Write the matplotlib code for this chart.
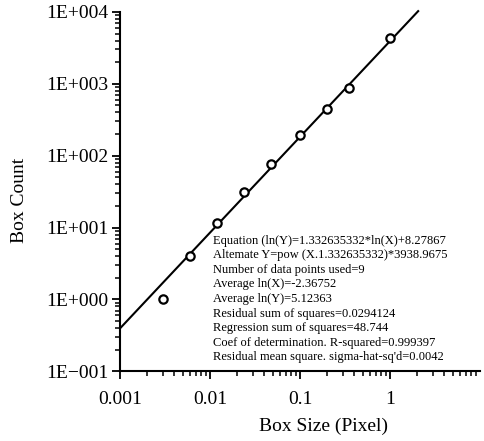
import numpy as np
import matplotlib
matplotlib.use("Agg")
import matplotlib.pyplot as plt
from matplotlib.ticker import LogLocator, NullFormatter

plt.rcParams['font.family'] = ['Liberation Serif', 'DejaVu Serif']

# box counting data
box_size = [0.003, 0.006, 0.012, 0.024, 0.048, 0.1, 0.2, 0.35, 1.0]
box_count = [1.0, 4.06, 11.5, 31.2, 75.8, 193, 451, 872, 4276]

# fitted power law  Y = A * X^b
slope = 1.332635332
coef = 3938.9675
fit_x = [0.001, 2.05]

yticks = [0.1, 1, 10, 100, 1000, 10000]
ytick_labels = ["1E\u2212001", "1E+000", "1E+001", "1E+002", "1E+003", "1E+004"]
xticks = [0.001, 0.01, 0.1, 1]
xtick_labels = ["0.001", "0.01", "0.1", "1"]

stats = ["Equation (ln(Y)=1.332635332*ln(X)+8.27867",
         "Altemate Y=pow (X.1.332635332)*3938.9675",
         "Number of data points used=9",
         "Average ln(X)=-2.36752",
         "Average ln(Y)=5.12363",
         "Residual sum of squares=0.0294124",
         "Regression sum of squares=48.744",
         "Coef of determination. R-squared=0.999397",
         "Residual mean square. sigma-hat-sq'd=0.0042"]

fig = plt.figure(figsize=(4.84, 4.41), dpi=100)
ax = fig.add_axes([0.248, 0.158, 0.744, 0.815])

xs = np.logspace(np.log10(fit_x[0]), np.log10(fit_x[1]), 50)
ax.plot(xs, coef * xs**slope, color='black', lw=1.5, clip_on=False)
ax.plot(box_size, box_count, 'o', ms=6, mfc='white', mec='black', mew=1.6)

ax.set_xscale('log')
ax.set_yscale('log')
ax.set_xlim(0.001, 10)
ax.set_ylim(0.1, 10000)

ax.set_xticks(xticks)
ax.set_xticklabels(xtick_labels)
ax.set_yticks(yticks)
ax.set_yticklabels(ytick_labels)
ax.xaxis.set_minor_locator(LogLocator(base=10, subs=np.arange(2, 10)))
ax.yaxis.set_minor_locator(LogLocator(base=10, subs=np.arange(2, 10)))
ax.xaxis.set_minor_formatter(NullFormatter())
ax.yaxis.set_minor_formatter(NullFormatter())

for s in ['top', 'right']:
    ax.spines[s].set_visible(False)
for s in ['left', 'bottom']:
    ax.spines[s].set_linewidth(1.5)

ax.tick_params(which='major', direction='out', length=6, width=1.3, labelsize=14)
ax.tick_params(which='minor', direction='out', length=3.5, width=1.1)
ax.tick_params(axis='x', which='major', pad=8.5)
ax.tick_params(axis='y', which='major', pad=2.5)

ax.set_xlabel("Box Size (Pixel)", fontsize=14)
ax.set_ylabel("Box Count", fontsize=14)
ax.xaxis.set_label_coords(0.564, -0.128)
ax.yaxis.set_label_coords(-0.255, 0.477)

ax.text(0.257, 0.38, "\n".join(stats), transform=ax.transAxes,
        fontsize=9, va='top', ha='left', linespacing=1.285)

fig.savefig("out.png", dpi=100)
